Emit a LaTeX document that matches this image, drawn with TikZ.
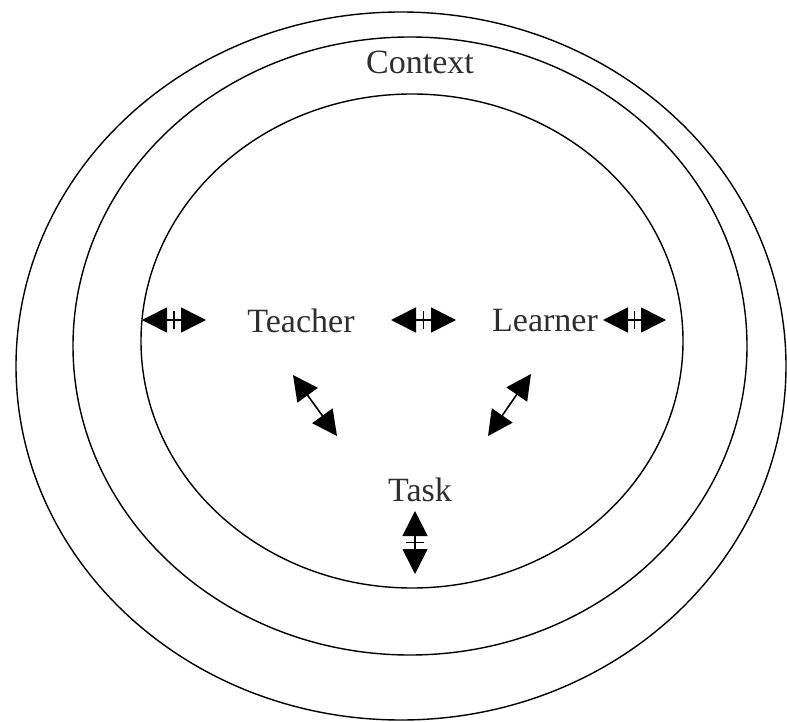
\documentclass[tikz,border=0pt]{standalone}
\usepackage{fontspec}
\setmainfont{Liberation Serif}
\usetikzlibrary{arrows.meta}
\definecolor{txt}{HTML}{2e2e2e}
\tikzset{
  ring/.style={draw=black,line width=1.4pt},
  lbl/.style={text=txt,font=\fontsize{34}{36}\selectfont,inner sep=0pt},
  dbl/.style={line width=1.6pt,{Triangle[length=25pt,width=25pt]}-{Triangle[length=25pt,width=25pt]}},
  tick/.style={line width=1.6pt}
}
\begin{document}
\begin{tikzpicture}[x=1pt,y=-1pt]
\useasboundingbox (0,0) rectangle (787,722);
\draw[ring] (401,366) ellipse [x radius=385, y radius=354];
\draw[ring] (410,346) ellipse [x radius=337, y radius=309];
\draw[ring] (412,341) ellipse [x radius=271, y radius=247];
\node[lbl] (context) at (420,62) {Context};
\node[lbl] (teacher) at (301,321) {Teacher};
\node[lbl] (learner) at (545,321) {Learner};
\node[lbl] (task) at (420,490) {Task};
% arrow end points
\coordinate (a1) at (142,320); \coordinate (b1) at (206,320);
\coordinate (a2) at (391,320); \coordinate (b2) at (456,320);
\coordinate (a3) at (603,320); \coordinate (b3) at (666,320);
\coordinate (a4) at (293,375); \coordinate (b4) at (337,436);
\coordinate (a5) at (531,374); \coordinate (b5) at (488,436);
\coordinate (a6) at (415,511); \coordinate (b6) at (415,574);
\foreach \i in {1,...,6}{
  \draw[dbl] (a\i) -- (b\i);
}
\foreach \i in {1,2,3}{
  \path (a\i) -- (b\i) coordinate[pos=0.5] (m\i);
  \draw[tick] ([yshift=-9]m\i) -- ([yshift=9]m\i);
}
\path (a6) -- (b6) coordinate[pos=0.5] (m6);
\draw[tick] ([xshift=-9]m6) -- ([xshift=9]m6);
\end{tikzpicture}
\end{document}
